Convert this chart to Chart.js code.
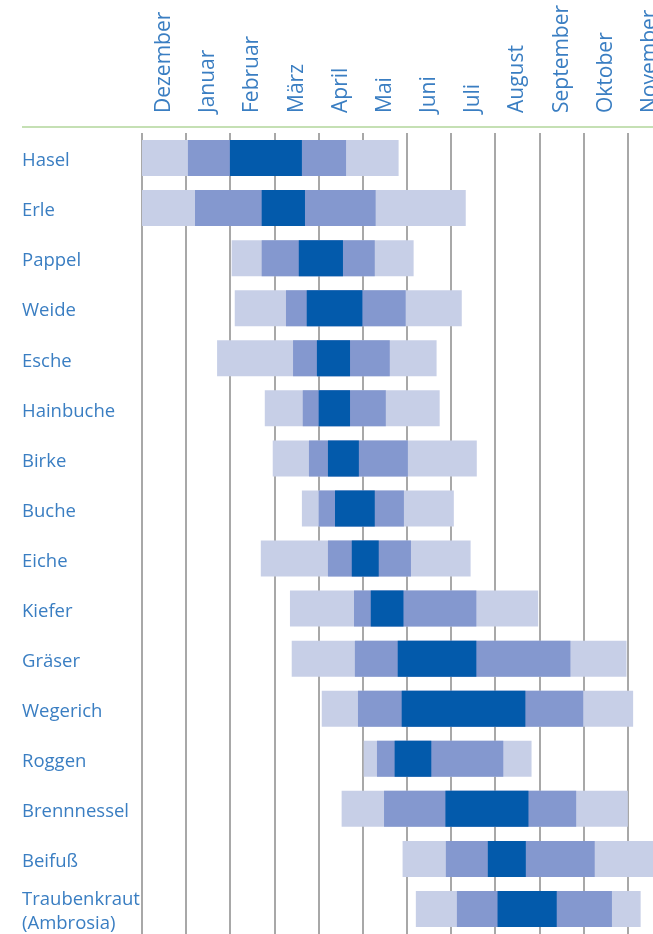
<!DOCTYPE html>
<html lang="de">
<head>
  <meta charset="UTF-8">
  <title>Pollenflugkalender</title>
  <script src="https://cdn.jsdelivr.net/npm/chart.js@4.4.1/dist/chart.umd.min.js"></script>
  <style>
    * {
      margin: 0;
      padding: 0;
    }
    body {
      background: #fff;
      overflow: hidden;
    }
    .chart {
      width: 690px;
      height: 934px;
    }
  </style>
</head>
<body>
  <div class="chart">
    <canvas id="pollen"></canvas>
  </div>

  <script>
    const months = ['Dezember', 'Januar', 'Februar', 'März', 'April', 'Mai', 'Juni',
      'Juli', 'August', 'September', 'Oktober', 'November'];

    const plants = ['Hasel', 'Erle', 'Pappel', 'Weide', 'Esche', 'Hainbuche', 'Birke',
      'Buche', 'Eiche', 'Kiefer', 'Gräser', 'Wegerich', 'Roggen', 'Brennnessel',
      'Beifuß', ['Traubenkraut', '(Ambrosia)']];

    // months counted from 1 December
    const low = [
      [0, 5.81], [0, 7.33], [2.03, 6.15], [2.10, 7.24], [1.70, 6.67], [2.78, 6.74],
      [2.96, 7.58], [3.62, 7.06], [2.69, 7.44], [3.35, 8.97], [3.39, 10.97],
      [4.07, 11.12], [5.02, 8.82], [4.52, 11.00], [5.90, 11.9], [6.20, 11.29]
    ];
    const medium = [
      [1.04, 4.62], [1.20, 5.29], [2.71, 5.27], [3.26, 5.97], [3.42, 5.61], [3.64, 5.52],
      [3.78, 6.02], [4.00, 5.93], [4.21, 6.09], [4.80, 7.57], [4.82, 9.70],
      [4.89, 9.99], [5.32, 8.18], [5.48, 9.83], [6.88, 10.25], [7.13, 10.64]
    ];
    const high = [
      [1.99, 3.62], [2.71, 3.69], [3.55, 4.55], [3.73, 4.99], [3.96, 4.71], [4.00, 4.71],
      [4.21, 4.91], [4.37, 5.27], [4.75, 5.36], [5.18, 5.92], [5.79, 7.57],
      [5.88, 8.68], [5.72, 6.55], [6.87, 8.75], [7.83, 8.69], [8.05, 9.39]
    ];

    const textColor = '#3a7ec2';
    const labelFont = { family: '"Open Sans", sans-serif', size: 18.5, lineHeight: 1.3 };
    const monthFont = { family: '"Open Sans", sans-serif', size: 21, lineHeight: 1.2 };

    const topLine = {
      id: 'topLine',
      beforeDraw(chart) {
        const ctx = chart.ctx;
        const y = chart.chartArea.top - 6;
        ctx.save();
        ctx.strokeStyle = '#c5e0b4';
        ctx.lineWidth = 2;
        ctx.beginPath();
        ctx.moveTo(chart.scales.y.left, y);
        ctx.lineTo(chart.width, y);
        ctx.stroke();
        ctx.restore();
      }
    };

    function bars(label, data, color, order) {
      return {
        label: label,
        data: data,
        backgroundColor: color,
        borderWidth: 0,
        grouped: false,
        order: order,
        barPercentage: 0.9,
        categoryPercentage: 0.8,
        xAxisID: 'x'
      };
    }

    new Chart(document.getElementById('pollen'), {
      type: 'bar',
      data: {
        labels: plants,
        datasets: [
          bars('stark', high, '#035aab', 0),
          bars('mittel', medium, '#8498cf', 1),
          bars('schwach', low, '#c7cfe7', 2)
        ]
      },
      options: {
        indexAxis: 'y',
        responsive: true,
        maintainAspectRatio: false,
        animation: false,
        layout: { padding: { left: 22, right: 18, top: 0, bottom: 0 } },
        plugins: {
          legend: { display: false },
          tooltip: { enabled: false }
        },
        scales: {
          x: {
            type: 'linear',
            position: 'top',
            min: 0,
            max: 12,
            grid: { display: false, drawTicks: false },
            border: { display: false },
            afterBuildTicks: (scale) => {
              scale.ticks = months.map((m, i) => ({ value: i + 0.5 }));
            },
            afterFit: (scale) => { scale.height = 133; },
            ticks: {
              autoSkip: false,
              minRotation: 90,
              maxRotation: 90,
              padding: 20,
              // rotated labels get shifted left by one line height, undo that
              labelOffset: monthFont.size * monthFont.lineHeight,
              color: textColor,
              font: monthFont,
              callback: (value, index) => months[index]
            }
          },
          xg: {
            type: 'linear',
            position: 'bottom',
            min: 0,
            max: 12,
            ticks: { display: false, stepSize: 1 },
            grid: { color: '#a8a8a8', lineWidth: 2, drawTicks: false },
            border: { display: false },
            afterFit: (scale) => { scale.height = 0; }
          },
          y: {
            grid: { display: false, drawTicks: false },
            border: { display: false },
            afterFit: (scale) => {
              scale.width = 120;
              scale.paddingTop = 0;
              scale.paddingBottom = 0;
            },
            ticks: {
              autoSkip: false,
              crossAlign: 'far',
              padding: 0,
              labelOffset: 3,
              color: textColor,
              font: labelFont
            }
          }
        }
      },
      plugins: [topLine]
    });
  </script>
</body>
</html>
